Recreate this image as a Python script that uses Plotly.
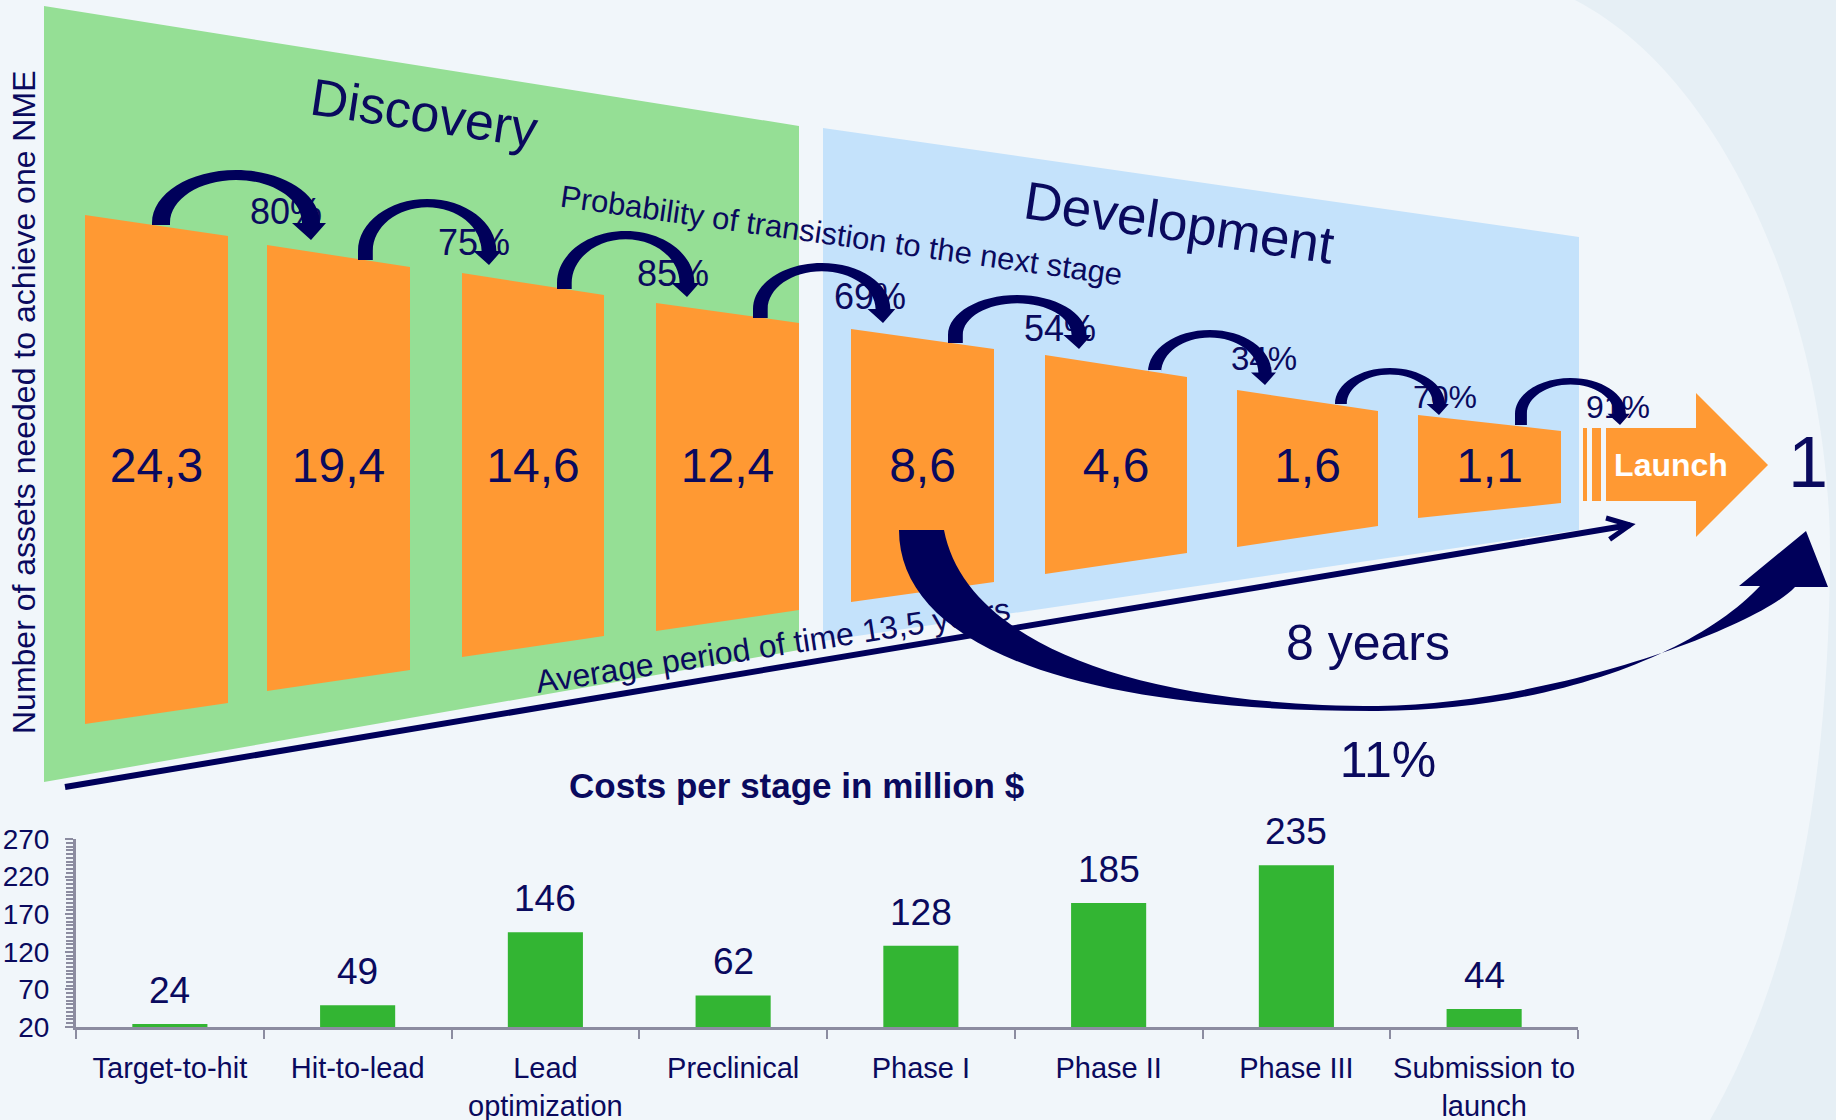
import math
import plotly.graph_objects as go

# ---------------- data ----------------
stages = ["Target-to-hit", "Hit-to-lead", "Lead<br>optimization", "Preclinical",
          "Phase I", "Phase II", "Phase III", "Submission to<br>launch"]
assets_needed = [24.3, 19.4, 14.6, 12.4, 8.6, 4.6, 1.6, 1.1]
transition_prob = [80, 75, 85, 69, 54, 34, 70, 91]
stage_costs = [24, 49, 146, 62, 128, 185, 235, 44]
cost_tick0, cost_dtick, cost_max = 20, 50, 270
launch_count = "1"
overall_success = "11%"
development_years = "8 years"
total_years = "13,5"

# ---------------- style / layout geometry ----------------
W, H = 1836, 1120
FONT = "Liberation Sans, Arial, Helvetica, sans-serif"
NAVY = "#0A0A5E"
ARROW = "#00005A"
ORANGE = "#FF9933"
GREEN_BG = "#95DF95"
BLUE_BG = "#C4E2FB"
BAR_GREEN = "#33B533"
AXIS_GRAY = "#8C8CA0"
BG = "#F1F6FA"

TRAP_LEFT = [85, 267, 462, 656, 851, 1045, 1237, 1418]
TRAP_W = [143, 143, 142, 143, 143, 142, 141, 143]
TRAP_TOP = [(215, 236), (245, 267), (273, 295), (303, 323), (329, 349), (355, 377), (390, 411), (415, 431)]
TRAP_BOT = [(724, 703), (691, 670), (657, 636), (631, 610), (602, 582), (574, 553), (547, 526), (518, 503)]
NUM_Y = 470
# curved arrows: left foot x, foot y, top y, tip x, tip y
ARCS = [(152, 225, 170, 311, 240), (358, 260, 199, 489, 265), (557, 289, 231, 687, 297),
        (753, 318, 263, 883, 323), (948, 343, 295, 1079, 349), (1148, 370, 330, 1265, 385),
        (1335, 404, 368, 1439, 415), (1515, 425, 378, 1620, 425)]
PCT_POS = [(286, 215), (474, 246), (673, 277), (870, 300), (1060, 332), (1264, 362), (1445, 400), (1618, 410)]
PCT_SIZE = [36, 36, 36, 36, 36, 33, 32, 32]

shapes = []
# background swoosh
shapes.append(dict(type="path", layer="below", line=dict(width=0), fillcolor="#E6EFF5",
                   path="M 1575,0 C 1730,80 1832,330 1830,560 C 1828,800 1790,980 1710,1120 L 1836,1120 L 1836,0 Z"))
# discovery / development panels
shapes.append(dict(type="path", layer="below", line=dict(width=0), fillcolor=GREEN_BG,
                   path="M 44,6 L 799,126 L 799,650 L 44,782 Z"))
shapes.append(dict(type="path", layer="below", line=dict(width=0), fillcolor=BLUE_BG,
                   path="M 823,128 L 1579,237 L 1579,530 L 823,641 Z"))
# trapezoids
for l, w, (t0, t1), (b0, b1) in zip(TRAP_LEFT, TRAP_W, TRAP_TOP, TRAP_BOT):
    shapes.append(dict(type="path", layer="below", line=dict(width=0), fillcolor=ORANGE,
                       path=f"M {l},{t0} L {l+w},{t1} L {l+w},{b1} L {l},{b0} Z"))
# launch arrow with stripes
for a, b in [(1583, 1587), (1592, 1601)]:
    shapes.append(dict(type="rect", layer="below", x0=a, x1=b, y0=428, y1=501,
                       line=dict(width=0), fillcolor=ORANGE))
shapes.append(dict(type="path", layer="below", line=dict(width=0), fillcolor=ORANGE,
                   path="M 1606,428 L 1696,428 L 1696,393 L 1768,465 L 1696,537 L 1696,501 L 1606,501 Z"))
# time line with open arrow head
sx, sy, ex, ey = 65, 787, 1630, 525
shapes.append(dict(type="line", layer="below", x0=sx, y0=sy, x1=ex, y1=ey,
                   line=dict(color=ARROW, width=6)))
ang = math.atan2(sy - ey, sx - ex)
arms = []
for d in (0.45, -0.45):
    arms.append((ex + 25 * math.cos(ang + d), ey + 25 * math.sin(ang + d)))
shapes.append(dict(type="path", layer="below", line=dict(color=ARROW, width=5),
                   path=f"M {arms[0][0]:.1f},{arms[0][1]:.1f} L {ex},{ey} L {arms[1][0]:.1f},{arms[1][1]:.1f}"))
# label along time line (drawn below the big arrow)
shapes.append(dict(type="line", layer="below", x0=537, y0=679, x1=1008, y1=606,
                   line=dict(width=0, color="rgba(0,0,0,0)"),
                   label=dict(text=f"Average period of time {total_years} years",
                              font=dict(size=32, color=NAVY, family=FONT),
                              textposition="middle", yanchor="middle", padding=0)))

# curved transition arrows
K = 0.5523
for (left, foot, top, tip_x, tip_y) in ARCS:
    s = (tip_x - left) / 159.0
    outer_r = tip_x + 9 * s
    rx_o = (outer_r - left) / 2
    cx = left + rx_o
    base = tip_y - 17 * s
    ry_o = base - top
    rx_i = rx_o - 18 * s
    ry_i = ry_o - 10 * s
    hw = 17 * s
    p = (f"M {left:.1f},{foot:.1f} L {left:.1f},{base:.1f} "
         f"C {left:.1f},{base-K*ry_o:.1f} {cx-K*rx_o:.1f},{top:.1f} {cx:.1f},{top:.1f} "
         f"C {cx+K*rx_o:.1f},{top:.1f} {outer_r:.1f},{base-K*ry_o:.1f} {outer_r:.1f},{base:.1f} "
         f"L {tip_x-2*s+hw:.1f},{base:.1f} L {tip_x:.1f},{tip_y:.1f} L {tip_x-2*s-hw:.1f},{base:.1f} "
         f"L {cx+rx_i:.1f},{base:.1f} "
         f"C {cx+rx_i:.1f},{base-K*ry_i:.1f} {cx+K*rx_i:.1f},{base-ry_i:.1f} {cx:.1f},{base-ry_i:.1f} "
         f"C {cx-K*rx_i:.1f},{base-ry_i:.1f} {cx-rx_i:.1f},{base-K*ry_i:.1f} {cx-rx_i:.1f},{base:.1f} "
         f"L {cx-rx_i:.1f},{foot:.1f} Z")
    shapes.append(dict(type="path", layer="above", line=dict(width=0), fillcolor=ARROW, path=p))

# big curved arrow (8 years)
shapes.append(dict(type="path", layer="above", line=dict(width=0), fillcolor=ARROW,
                   path=("M 899,530 C 899,640 1060,712 1378,711 C 1560,710 1700,650 1760,586 "
                         "L 1739,586 L 1806,531 L 1828,587 L 1795,587 "
                         "C 1760,625 1560,703 1378,706 C 1130,706 965,640 944,530 Z")))

fig = go.Figure()

# numbers inside trapezoids
fig.add_trace(go.Scatter(
    x=[l + w / 2 for l, w in zip(TRAP_LEFT, TRAP_W)], y=[NUM_Y] * len(assets_needed),
    text=[f"{v:.1f}".replace(".", ",") for v in assets_needed],
    mode="text", textposition="middle center", cliponaxis=False, hoverinfo="skip",
    textfont=dict(size=48, color=NAVY, family=FONT), xaxis="x", yaxis="y"))
# transition probabilities
fig.add_trace(go.Scatter(
    x=[p[0] for p in PCT_POS], y=[p[1] for p in PCT_POS],
    text=[f"{v}%" for v in transition_prob],
    mode="text", textposition="middle center", cliponaxis=False, hoverinfo="skip",
    textfont=dict(size=PCT_SIZE, color=NAVY, family=FONT), xaxis="x", yaxis="y"))
# misc labels
fig.add_trace(go.Scatter(
    x=[1671, 1808, 1368, 1388], y=[468, 469, 647, 764],
    text=["<b>Launch</b>", launch_count, development_years, overall_success],
    mode="text", textposition="middle center", cliponaxis=False, hoverinfo="skip",
    textfont=dict(size=[32, 72, 50, 50], color=["white", NAVY, NAVY, NAVY], family=FONT),
    xaxis="x", yaxis="y"))

# cost bars
fig.add_trace(go.Bar(x=stages, y=stage_costs, marker=dict(color=BAR_GREEN, line=dict(width=0)),
                     xaxis="x2", yaxis="y2", hoverinfo="skip"))

annotations = []
for st, c in zip(stages, stage_costs):
    annotations.append(dict(x=st, y=c, xref="x2", yref="y2", text=str(c), showarrow=False,
                            yanchor="bottom", yshift=11,
                            font=dict(size=37, color=NAVY, family=FONT)))
annotations += [
    dict(x=24, y=403, xref="x", yref="y", text="Number of assets needed to achieve one NME",
         textangle=-90, showarrow=False, font=dict(size=32, color=NAVY, family=FONT)),
    dict(x=424, y=113, xref="x", yref="y", text="Discovery", textangle=8.5, showarrow=False,
         font=dict(size=52, color=NAVY, family=FONT)),
    dict(x=1179, y=222, xref="x", yref="y", text="Development", textangle=8.5, showarrow=False,
         font=dict(size=53, color=NAVY, family=FONT)),
    dict(x=841, y=235, xref="x", yref="y", text="Probability of transistion to the next stage",
         textangle=8, showarrow=False, font=dict(size=31, color=NAVY, family=FONT)),
    dict(x=796, y=785, xref="x", yref="y", text="<b>Costs per stage in million $</b>",
         showarrow=False, font=dict(size=35, color=NAVY, family=FONT)),
]

fig.update_layout(
    width=W, height=H, margin=dict(l=0, r=0, t=0, b=0, autoexpand=False),
    paper_bgcolor=BG, plot_bgcolor="rgba(0,0,0,0)", showlegend=False,
    bargap=0.6, shapes=shapes, annotations=annotations,
    font=dict(family=FONT, color=NAVY),
    xaxis=dict(range=[0, W], domain=[0, 1], visible=False, fixedrange=True, automargin=False),
    yaxis=dict(range=[H, 0], domain=[0, 1], visible=False, fixedrange=True, automargin=False),
    xaxis2=dict(domain=[76 / W, 1578 / W], anchor="y2", type="category", automargin=False,
                tickangle=0,
                showline=True, linecolor=AXIS_GRAY, linewidth=3,
                ticks="outside", tickson="boundaries", ticklen=9, tickwidth=2, tickcolor=AXIS_GRAY,
                tickfont=dict(size=29, color=NAVY, family=FONT), ticklabelstandoff=13,
                showgrid=False, zeroline=False),
    yaxis2=dict(domain=[1 - 1027 / H, 1 - 839 / H], anchor="x2", range=[cost_tick0, cost_max],
                automargin=False, tick0=cost_tick0, dtick=cost_dtick,
                showline=True, linecolor=AXIS_GRAY, linewidth=3,
                ticks="outside", ticklen=8, tickwidth=2, tickcolor=AXIS_GRAY,
                minor=dict(dtick=5, ticks="outside", ticklen=7, tickwidth=2, tickcolor=AXIS_GRAY, showgrid=False),
                tickfont=dict(size=28, color=NAVY, family=FONT), ticklabelstandoff=10,
                showgrid=False, zeroline=False),
)

fig.write_html("out.html")
